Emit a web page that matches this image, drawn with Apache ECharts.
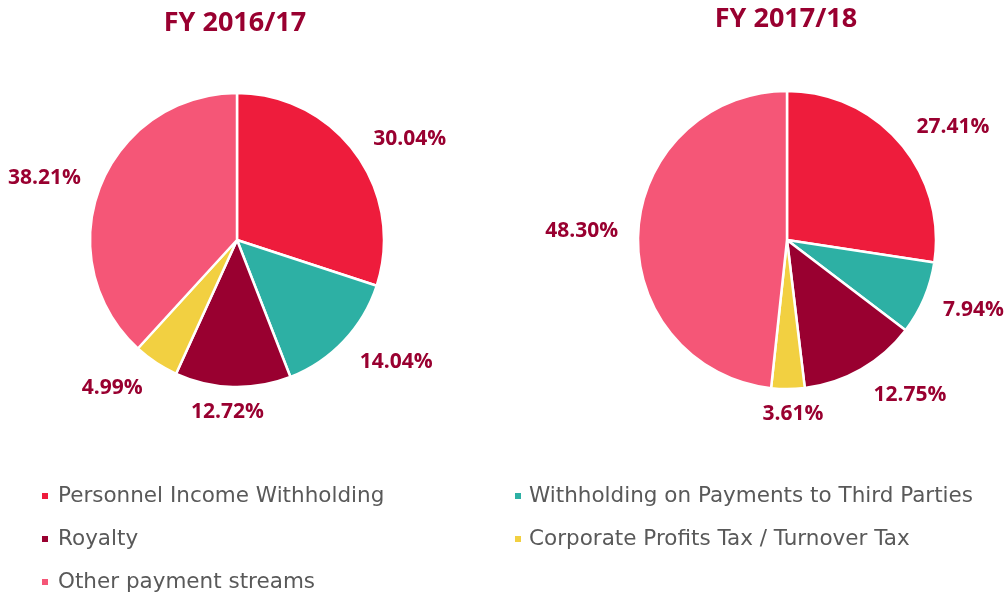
<!DOCTYPE html>
<html><head><meta charset="utf-8">
<script src="https://cdn.jsdelivr.net/npm/echarts@6/dist/echarts.min.js"></script>
<style>html,body{margin:0;padding:0;background:#fff}#c{width:1008px;height:596px}</style>
</head><body><div id="c"></div>
<script>
const categories = ['Personnel Income Withholding','Withholding on Payments to Third Parties','Royalty','Corporate Profits Tax / Turnover Tax','Other payment streams'];
const colors = ['#EE1C3C','#2DB0A4','#990030','#F2D041','#F55677'];
const titles = ['FY 2016/17','FY 2017/18'];
const values2016 = [30.04, 14.04, 12.72, 4.99, 38.21];
const values2017 = [27.41, 7.94, 12.75, 3.61, 48.30];
const allValues = [values2016, values2017];

function midAngle(vals, i){
  const tot = vals.reduce((a,b)=>a+b,0);
  let before = 0; for(let k=0;k<i;k++) before += vals[k];
  return (before + vals[i]/2)/tot*360;
}

const chart = echarts.init(document.getElementById('c'));
const labelColor = '#990030';
function pie(vals, cx, r, si){
  return {
    type:'pie', center:[cx,240], radius:r, startAngle:90, clockwise:true,
    avoidLabelOverlap:false,
    itemStyle:{borderColor:'#fff',borderWidth:2.5},
    label:{show:true, position:'outside', color:labelColor, fontFamily:'Open Sans', fontWeight:'bold', fontSize:21,
      formatter:p=>p.value.toFixed(2)+'%'},
    labelLine:{show:false, length:15, length2:0},
    emphasis:{disabled:true},
    labelLayout: function(p){
      const a = midAngle(allValues[si], p.dataIndex);
      const ydir = -Math.cos(a*Math.PI/180);
      if (Math.abs(a-180) < 20) {
        const w = p.labelRect.width;
        return {dx: a > 180 ? w/2 : -w/2, dy: 10.5};
      }
      return {dy: ydir > 0 ? 15*ydir : 10*ydir};
    },
    data: vals.map((v,i)=>({name:categories[i], value:v, itemStyle:{color:colors[i]}}))
  };
}
chart.setOption({
  animation:false,
  title:[
    {text:titles[0], left:230, top:5, textAlign:'center', textStyle:{color:labelColor,fontFamily:'Open Sans',fontWeight:'bold',fontSize:27}},
    {text:titles[1], left:781, top:1, textAlign:'center', textStyle:{color:labelColor,fontFamily:'Open Sans',fontWeight:'bold',fontSize:27}}
  ],
  legend:[
    {orient:'vertical', left:40, top:485, padding:0, itemGap:21, itemWidth:8, itemHeight:8, icon:'rect',
     data:[categories[0],categories[2],categories[4]],
     textStyle:{color:'#595959', fontFamily:'DejaVu Sans', fontSize:21.5, lineHeight:22, padding:[0,0,0,4]}},
    {orient:'vertical', left:513, top:485, padding:0, itemGap:21, itemWidth:8, itemHeight:8, icon:'rect',
     data:[categories[1],categories[3]],
     textStyle:{color:'#595959', fontFamily:'DejaVu Sans', fontSize:21.5, lineHeight:22, padding:[0,0,0,2]}}
  ],
  series:[pie(values2016,237,147,0), pie(values2017,787,149,1)]
});
</script>
</body></html>
